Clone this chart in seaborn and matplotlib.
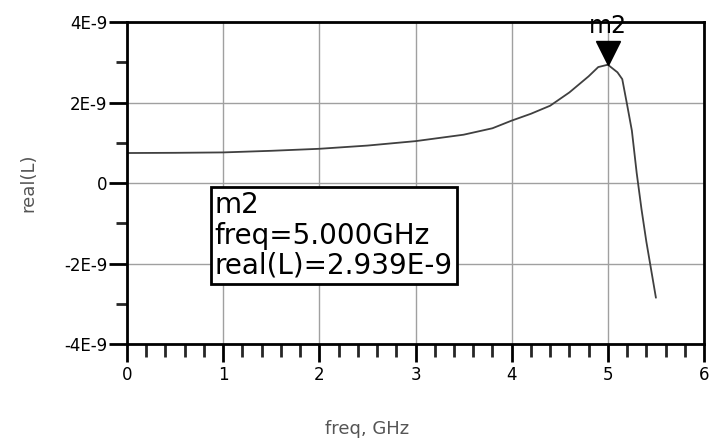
import matplotlib
matplotlib.use("Agg")
import matplotlib.pyplot as plt
import matplotlib.transforms as mtransforms
from matplotlib.ticker import MultipleLocator, FixedLocator, FixedFormatter
import seaborn as sns
import pandas as pd

sns.set_style("white")
plt.rcParams['font.family'] = ['DejaVu Sans']

# values (freq in GHz, real(L) in H)
freq = [0.0, 0.5, 1.0, 1.5, 2.0, 2.5, 3.0, 3.5, 3.8, 4.0, 4.2, 4.4, 4.6,
        4.8, 4.9, 5.0, 5.1, 5.15, 5.2, 5.25, 5.3, 5.35, 5.4, 5.45, 5.5]
real_L = [0.745, 0.75, 0.76, 0.80, 0.85, 0.93, 1.04, 1.20, 1.36, 1.55, 1.72,
          1.92, 2.25, 2.65, 2.88, 2.939, 2.75, 2.58, 1.95, 1.30, 0.25,
          -0.65, -1.45, -2.15, -2.85]
real_L = [v * 1e-9 for v in real_L]

ytick_vals = [-4e-9, -2e-9, 0, 2e-9, 4e-9]
ytick_labels = ["-4E-9", "-2E-9", "0", "2E-9", "4E-9"]

# marker m2
m2_freq = 5.0
m2_val = 2.939e-9

df = pd.DataFrame({"freq": freq, "real_L": real_L})

fig = plt.figure(figsize=(7.18, 4.48), dpi=100)
ax = fig.add_axes([0.1769, 0.2321, 0.8036, 0.7188])

sns.lineplot(data=df, x="freq", y="real_L", ax=ax, color="#404040", linewidth=1.3)

ax.set_xlim(0, 6)
ax.set_ylim(-4e-9, 4e-9)
ax.xaxis.set_major_locator(MultipleLocator(1))
ax.xaxis.set_minor_locator(MultipleLocator(0.2))
ax.yaxis.set_major_locator(FixedLocator(ytick_vals))
ax.yaxis.set_major_formatter(FixedFormatter(ytick_labels))
ax.yaxis.set_minor_locator(MultipleLocator(1e-9))

ax.grid(True, which="major", color="#a0a0a0", linewidth=1.0)
for s in ax.spines.values():
    s.set_color("black")
    s.set_linewidth(2)

ax.tick_params(axis="x", which="major", direction="out", length=13, width=2,
               labelsize=12, pad=3, colors="black")
ax.tick_params(axis="x", which="minor", direction="out", length=9, width=2)
ax.tick_params(axis="y", which="major", direction="out", length=13, width=2,
               labelsize=12, pad=1, colors="black")
ax.tick_params(axis="y", which="minor", direction="out", length=8, width=2)
ax.tick_params(bottom=True, left=True, which="both")

ax.set_xlabel("freq, GHz", fontsize=13, color="#555555")
ax.set_ylabel("real(L)", fontsize=13, color="#555555")
ax.xaxis.set_label_coords(0.416, -0.235)
ax.yaxis.set_label_coords(-0.155, 0.5)

# triangle marker sitting on the peak
tri = mtransforms.offset_copy(ax.transData, fig=fig, x=0, y=12, units="dots")
ax.plot([m2_freq], [m2_val], marker="v", markersize=17, color="black",
        transform=tri, clip_on=False)
ax.annotate("m2", (m2_freq, m2_val), xytext=(0, 27), textcoords="offset pixels",
            ha="center", va="bottom", fontsize=17, color="black",
            annotation_clip=False)

ax.text(0.152, 0.474, "m2\nfreq=5.000GHz\nreal(L)=2.939E-9",
        transform=ax.transAxes, ha="left", va="top", fontsize=20,
        linespacing=1.1, color="black",
        bbox=dict(boxstyle="square,pad=0.15", fc="white", ec="black", lw=2))

fig.savefig("out.png", dpi=100)
